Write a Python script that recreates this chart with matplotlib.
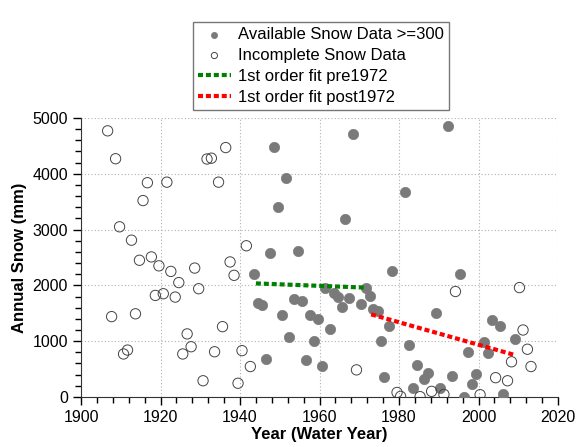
import numpy as np
import matplotlib
matplotlib.use("Agg")
import matplotlib.pyplot as plt
from matplotlib.ticker import MultipleLocator

plt.rcParams['font.family'] = ['Liberation Sans', 'DejaVu Sans']

# Incomplete snow data (open circles)
inc_years = [1906.7, 1907.7, 1908.7, 1909.7, 1910.7, 1911.7, 1912.7, 1913.7, 1914.7,
             1915.6, 1916.7, 1917.7, 1918.7, 1919.6, 1920.7, 1921.6, 1922.6, 1923.7,
             1924.6, 1925.6, 1926.7, 1927.7, 1928.6, 1929.6, 1930.7, 1931.7, 1932.8,
             1933.6, 1934.6, 1935.6, 1936.4, 1937.5, 1938.5, 1939.5, 1940.5, 1941.6,
             1942.6, 1969.3, 1979.5, 1980.4, 1985.3, 1988.2, 1991.3, 1994.2, 2000.4,
             2004.3, 2007.3, 2008.3, 2010.3, 2011.2, 2012.3, 2013.2]
inc_snow = [4770, 1440, 4270, 3050, 770, 840, 2810, 1490, 2450,
            3520, 3840, 2510, 1820, 2350, 1850, 3850, 2250, 1790,
            2050, 770, 1130, 900, 2310, 1940, 290, 4265, 4280,
            810, 3850, 1260, 4470, 2420, 2180, 245, 830, 2710,
            545, 485, 80, 10, 5, 100, 45, 1890, 40,
            345, 290, 630, 1960, 1200, 855, 545]

# Available snow data (filled circles)
av_years = [1943.4, 1944.5, 1945.5, 1946.6, 1947.6, 1948.6, 1949.5, 1950.5, 1951.5,
            1952.4, 1953.5, 1954.5, 1955.5, 1956.5, 1957.5, 1958.5, 1959.5, 1960.6,
            1961.4, 1962.6, 1963.7, 1964.7, 1965.6, 1966.3, 1967.4, 1968.4, 1970.4,
            1971.6, 1972.6, 1973.4, 1974.6, 1975.4, 1976.3, 1977.4, 1978.3, 1981.4,
            1982.4, 1983.4, 1984.4, 1986.4, 1987.4, 1989.3, 1990.3, 1992.4, 1993.3,
            1995.3, 1996.3, 1997.3, 1998.3, 1999.3, 2001.3, 2002.3, 2003.3, 2005.3,
            2006.2, 2009.3]
av_snow = [2204, 1690, 1649, 686, 2575, 4474, 3400, 1475, 3930,
           1070, 1751, 2616, 1726, 663, 1475, 1009, 1398, 556,
           1948, 1224, 1869, 1792, 1613, 3195, 1780, 4719, 1661,
           1948, 1815, 1577, 1541, 1003, 360, 1272, 2252, 3674,
           925, 156, 573, 320, 425, 1511, 156, 4860, 382,
           2200, 0, 812, 235, 412, 985, 780, 1374, 1272,
           60, 1034]

# Linear fits (end points)
pre_fit_x = [1944.0, 1971.5]
pre_fit_y = [2035, 1960]
post_fit_x = [1973.0, 2009.2]
post_fit_y = [1480, 750]

fig = plt.figure(figsize=(5.77, 4.47), dpi=100)
ax = fig.add_axes([0.1404, 0.112, 0.8267, 0.624])

ax.scatter(av_years, av_snow, s=55, color='#7a7a7a', edgecolors='#7a7a7a',
           linewidths=0.5, label='Available Snow Data >=300', zorder=3)
ax.scatter(inc_years, inc_snow, s=55, facecolors='none', edgecolors='#444444',
           linewidths=0.7, label='Incomplete Snow Data', zorder=3)
ax.plot(pre_fit_x, pre_fit_y, color='#008000', lw=3, dashes=(1.2, 0.7),
        label='1st order fit pre1972', zorder=4)
ax.plot(post_fit_x, post_fit_y, color='#ff0000', lw=3, dashes=(1.2, 0.7),
        label='1st order fit post1972', zorder=4)

ax.set_xlim(1900, 2020)
ax.set_ylim(0, 5000)
ax.xaxis.set_major_locator(MultipleLocator(20))
ax.xaxis.set_minor_locator(MultipleLocator(4))
ax.yaxis.set_major_locator(MultipleLocator(1000))
ax.yaxis.set_minor_locator(MultipleLocator(200))
ax.tick_params(which='major', length=6, width=1, labelsize=11.5, direction='out')
ax.tick_params(which='minor', length=4, width=1, direction='out')
ax.grid(True, which='major', linestyle=(0, (1, 2)), color='#b0b0b0', linewidth=0.8)
ax.spines['top'].set_visible(False)
ax.spines['right'].set_visible(False)
ax.spines['left'].set_color('#333333')
ax.spines['bottom'].set_color('#333333')

ax.set_xlabel('Year (Water Year)', fontsize=12, fontweight='bold', labelpad=1)
ax.set_ylabel('Annual Snow (mm)', fontsize=12, fontweight='bold', labelpad=4)

leg = fig.legend(loc='upper left', bbox_to_anchor=(0.334, 0.951), fontsize=12,
                 frameon=True, fancybox=False, edgecolor='#555555', markerscale=0.6,
                 handlelength=2.0, handletextpad=0.4, labelspacing=0.36,
                 borderpad=0.3, borderaxespad=0)
leg.get_frame().set_linewidth(1.0)

fig.savefig('out.png', dpi=100)
